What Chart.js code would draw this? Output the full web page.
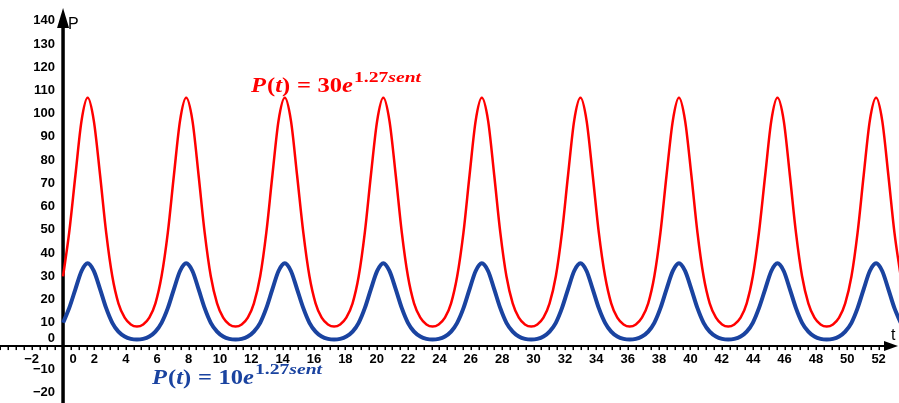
<!DOCTYPE html>
<html>
<head>
<meta charset="utf-8">
<script src="https://cdn.jsdelivr.net/npm/chart.js@4/dist/chart.umd.min.js"></script>
<style>
html,body{margin:0;padding:0;background:#fff;}
#wrap{width:899px;height:403px;position:relative;}
</style>
</head>
<body>
<div id="wrap"><canvas id="c" width="899" height="403"></canvas></div>
<script>
// ---- data ----
const tValues = [
  0, 0.39, 0.79, 1.18, 1.57, 1.96, 2.36, 2.75, 3.14, 3.53, 3.93, 4.32, 4.71, 5.11, 5.50, 5.89,
  6.28, 6.68, 7.07, 7.46, 7.85, 8.25, 8.64, 9.03, 9.42, 9.82, 10.21, 10.60, 11.00, 11.39, 11.78, 12.17,
  12.57, 12.96, 13.35, 13.74, 14.14, 14.53, 14.92, 15.32, 15.71, 16.10, 16.49, 16.89, 17.28, 17.67, 18.06, 18.46,
  18.85, 19.24, 19.63, 20.03, 20.42, 20.81, 21.21, 21.60, 21.99, 22.38, 22.78, 23.17, 23.56, 23.95, 24.35, 24.74,
  25.13, 25.53, 25.92, 26.31, 26.70, 27.10, 27.49, 27.88, 28.27, 28.67, 29.06, 29.45, 29.85, 30.24, 30.63, 31.02,
  31.42, 31.81, 32.20, 32.59, 32.99, 33.38, 33.77, 34.16, 34.56, 34.95, 35.34, 35.74, 36.13, 36.52, 36.91, 37.31,
  37.70, 38.09, 38.48, 38.88, 39.27, 39.66, 40.06, 40.45, 40.84, 41.23, 41.63, 42.02, 42.41, 42.80, 43.20, 43.59,
  43.98, 44.37, 44.77, 45.16, 45.55, 45.95, 46.34, 46.73, 47.12, 47.52, 47.91, 48.30, 48.69, 49.09, 49.48, 49.87,
  50.27, 50.66, 51.05, 51.44, 51.84, 52.23, 52.62, 53.01, 53.41
];
const redP = [
  30, 48.8, 73.6, 97.0, 106.8, 97.0, 73.6, 48.8, 30, 18.4, 12.2, 9.3, 8.4, 9.3, 12.2, 18.4,
  30, 48.8, 73.6, 97.0, 106.8, 97.0, 73.6, 48.8, 30, 18.4, 12.2, 9.3, 8.4, 9.3, 12.2, 18.4,
  30, 48.8, 73.6, 97.0, 106.8, 97.0, 73.6, 48.8, 30, 18.4, 12.2, 9.3, 8.4, 9.3, 12.2, 18.4,
  30, 48.8, 73.6, 97.0, 106.8, 97.0, 73.6, 48.8, 30, 18.4, 12.2, 9.3, 8.4, 9.3, 12.2, 18.4,
  30, 48.8, 73.6, 97.0, 106.8, 97.0, 73.6, 48.8, 30, 18.4, 12.2, 9.3, 8.4, 9.3, 12.2, 18.4,
  30, 48.8, 73.6, 97.0, 106.8, 97.0, 73.6, 48.8, 30, 18.4, 12.2, 9.3, 8.4, 9.3, 12.2, 18.4,
  30, 48.8, 73.6, 97.0, 106.8, 97.0, 73.6, 48.8, 30, 18.4, 12.2, 9.3, 8.4, 9.3, 12.2, 18.4,
  30, 48.8, 73.6, 97.0, 106.8, 97.0, 73.6, 48.8, 30, 18.4, 12.2, 9.3, 8.4, 9.3, 12.2, 18.4,
  30, 48.8, 73.6, 97.0, 106.8, 97.0, 73.6, 48.8, 30
];
const blueP = [
  10, 16.3, 24.5, 32.3, 35.6, 32.3, 24.5, 16.3, 10, 6.2, 4.1, 3.1, 2.8, 3.1, 4.1, 6.2,
  10, 16.3, 24.5, 32.3, 35.6, 32.3, 24.5, 16.3, 10, 6.2, 4.1, 3.1, 2.8, 3.1, 4.1, 6.2,
  10, 16.3, 24.5, 32.3, 35.6, 32.3, 24.5, 16.3, 10, 6.2, 4.1, 3.1, 2.8, 3.1, 4.1, 6.2,
  10, 16.3, 24.5, 32.3, 35.6, 32.3, 24.5, 16.3, 10, 6.2, 4.1, 3.1, 2.8, 3.1, 4.1, 6.2,
  10, 16.3, 24.5, 32.3, 35.6, 32.3, 24.5, 16.3, 10, 6.2, 4.1, 3.1, 2.8, 3.1, 4.1, 6.2,
  10, 16.3, 24.5, 32.3, 35.6, 32.3, 24.5, 16.3, 10, 6.2, 4.1, 3.1, 2.8, 3.1, 4.1, 6.2,
  10, 16.3, 24.5, 32.3, 35.6, 32.3, 24.5, 16.3, 10, 6.2, 4.1, 3.1, 2.8, 3.1, 4.1, 6.2,
  10, 16.3, 24.5, 32.3, 35.6, 32.3, 24.5, 16.3, 10, 6.2, 4.1, 3.1, 2.8, 3.1, 4.1, 6.2,
  10, 16.3, 24.5, 32.3, 35.6, 32.3, 24.5, 16.3, 10
];
const xTickLabels = [-2, 0, 2, 4, 6, 8, 10, 12, 14, 16, 18, 20, 22, 24, 26, 28, 30, 32, 34, 36, 38, 40, 42, 44, 46, 48, 50, 52];
const yTickLabels = [-20, -10, 0, 10, 20, 30, 40, 50, 60, 70, 80, 90, 100, 110, 120, 130, 140];
const xAxisName = 't';
const yAxisName = 'P';
const redLabel  = { name: 'P', arg: 't', coef: '30', base: 'e', expNum: '1.27', expVar: 'sent' };
const blueLabel = { name: 'P', arg: 't', coef: '10', base: 'e', expNum: '1.27', expVar: 'sent' };

const RED = '#ff0000';
const BLUE = '#1a43a0';

function toPts(xs, ys){ return xs.map((v,i)=>({x:v, y:ys[i]})); }

function fmt(v){ return v < 0 ? '\u2212' + Math.abs(v) : String(v); }

// draw a list of text runs, stretched horizontally to a target width
function drawRuns(ctx, x, y, runs, color, targetW){
  ctx.save();
  ctx.fillStyle = color;
  ctx.textBaseline = 'alphabetic';
  ctx.textAlign = 'left';
  let w = 0;
  for (const r of runs){ ctx.font = r.f; w += (r.pre||0) + ctx.measureText(r.t).width + (r.post||0); }
  const sx = targetW ? targetW / w : 1;
  ctx.translate(x, y);
  ctx.scale(sx, 1);
  let cx = 0;
  for (const r of runs){
    ctx.font = r.f;
    cx += (r.pre || 0);
    ctx.fillText(r.t, cx, (r.dy || 0));
    cx += ctx.measureText(r.t).width + (r.post || 0);
  }
  ctx.restore();
  return x + w * sx;
}
const FAM = '"Liberation Serif","DejaVu Serif",serif';
function mainRuns(L){
  const it = 'italic bold 22px ' + FAM, up = 'bold 22px ' + FAM;
  return [
    {t:L.name, f:it},
    {t:'(', f:up, pre:1},
    {t:L.arg, f:it},
    {t:')', f:up},
    {t:'=', f:up, pre:6, post:6},
    {t:L.coef, f:up},
    {t:L.base, f:it}
  ];
}
function supRuns(L){
  return [
    {t:L.expNum, f:'bold 15px ' + FAM},
    {t:L.expVar, f:'italic bold 15px ' + FAM}
  ];
}
function drawFormula(ctx, x, y, L, color){
  const xe = drawRuns(ctx, x, y, mainRuns(L), color, 102);
  drawRuns(ctx, xe + 1, y - 10, supRuns(L), color, 67);
}

const axesPlugin = {
  id: 'axesPlugin',
  beforeDatasetsDraw(chart){
    const {ctx, scales:{x, y}} = chart;
    const W = chart.width, H = chart.height;
    const x0 = x.getPixelForValue(0), y0 = y.getPixelForValue(0);
    ctx.save();
    ctx.fillStyle = '#000';
    ctx.strokeStyle = '#000';
    // x axis
    ctx.lineWidth = 2;
    ctx.beginPath(); ctx.moveTo(0, y0); ctx.lineTo(W - 12, y0); ctx.stroke();
    ctx.beginPath(); ctx.moveTo(W - 1, y0); ctx.lineTo(W - 15, y0 - 5); ctx.lineTo(W - 15, y0 + 5); ctx.closePath(); ctx.fill();
    // x minor ticks (every 0.5)
    for (let v = Math.ceil(x.min * 2) / 2; v <= x.max - 1; v += 0.5){
      const px = Math.round(x.getPixelForValue(v));
      ctx.fillRect(px - 0.5, y0, 1.5, 4);
    }
    // y axis
    ctx.lineWidth = 3.5;
    ctx.beginPath(); ctx.moveTo(x0, H); ctx.lineTo(x0, 24); ctx.stroke();
    ctx.beginPath(); ctx.moveTo(x0, 8); ctx.lineTo(x0 - 6, 28); ctx.lineTo(x0 + 6, 28); ctx.closePath(); ctx.fill();
    // axis names
    ctx.font = '16px "Liberation Sans", Arial, sans-serif';
    ctx.textAlign = 'left'; ctx.textBaseline = 'alphabetic';
    ctx.fillText(yAxisName, x0 + 5, 29);
    ctx.fillText(xAxisName, W - 8, y0 - 6);
    // tick labels
    ctx.font = 'bold 13px "Liberation Sans", Arial, sans-serif';
    ctx.textAlign = 'center'; ctx.textBaseline = 'middle';
    for (const v of xTickLabels){
      const px = x.getPixelForValue(v) + (v === 0 ? 10 : 0);
      ctx.fillText(fmt(v), px, y0 + 13);
    }
    ctx.textAlign = 'right';
    for (const v of yTickLabels){
      const py = y.getPixelForValue(v) + (v === 0 ? -8 : 0);
      ctx.fillText(fmt(v), x0 - 8, py);
    }
    ctx.restore();
  },
  afterDatasetsDraw(chart){
    const {ctx} = chart;
    drawFormula(ctx, 251, 92, redLabel, RED);
    drawFormula(ctx, 152, 384, blueLabel, BLUE);
  }
};

new Chart(document.getElementById('c'), {
  type: 'scatter',
  data: {
    datasets: [
      { data: toPts(tValues, redP), showLine: true, borderColor: RED, borderWidth: 2.5,
        pointRadius: 0, cubicInterpolationMode: 'monotone', fill: false },
      { data: toPts(tValues, blueP), showLine: true, borderColor: BLUE, borderWidth: 4,
        pointRadius: 0, cubicInterpolationMode: 'monotone', fill: false }
    ]
  },
  options: {
    responsive: false,
    animation: false,
    layout: { padding: 0 },
    plugins: { legend: { display: false }, tooltip: { enabled: false } },
    scales: {
      x: { type: 'linear', min: -4.02, max: 53.3, display: false },
      y: { type: 'linear', min: -24.5, max: 148.9, display: false }
    }
  },
  plugins: [axesPlugin]
});
</script>
</body>
</html>
